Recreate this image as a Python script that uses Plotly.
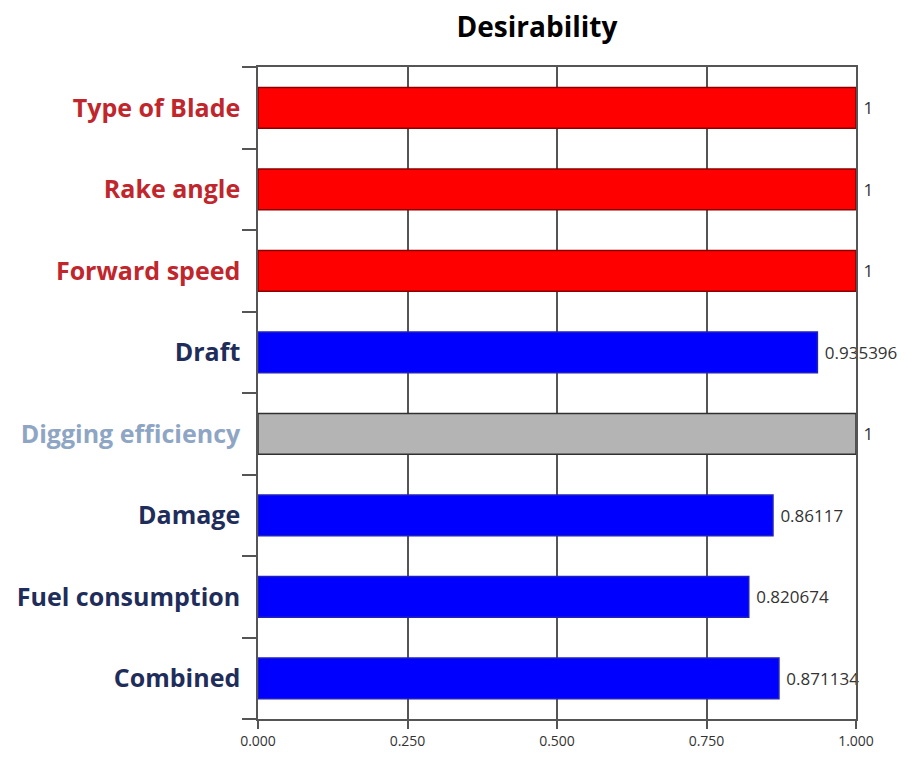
import plotly.graph_objects as go

categories = ["Type of Blade", "Rake angle", "Forward speed", "Draft",
              "Digging efficiency", "Damage", "Fuel consumption", "Combined"]
values = [1, 1, 1, 0.935396, 1, 0.86117, 0.820674, 0.871134]
value_text = ["1", "1", "1", "0.935396", "1", "0.86117", "0.820674", "0.871134"]
bar_colors = ["#FF0000", "#FF0000", "#FF0000", "#0000FF", "#B4B4B4", "#0000FF", "#0000FF", "#0000FF"]
edge_colors = ["#8B0000", "#8B0000", "#8B0000", "#2020C0", "#303030", "#2020C0", "#2020C0", "#2020C0"]
label_colors = ["#C0262C", "#C0262C", "#C0262C", "#1F2D5A", "#8EA5C4", "#1F2D5A", "#1F2D5A", "#1F2D5A"]
x_ticks = [0, 0.25, 0.5, 0.75, 1.0]
x_ticktext = ["0.000", "0.250", "0.500", "0.750", "1.000"]

ticktext = [f"<span style='color:{c}'><b>{t}</b></span>" for t, c in zip(categories, label_colors)]

fig = go.Figure(go.Bar(
    y=categories, x=values, orientation="h",
    marker=dict(color=bar_colors, line=dict(color=edge_colors, width=1.5)),
    text=[" " + t for t in value_text], textposition="outside", cliponaxis=False,
    textfont=dict(family="Open Sans", size=17, color="#333333"),
    width=0.5,
))

fig.update_layout(
    width=907, height=762,
    paper_bgcolor="white", plot_bgcolor="white",
    margin=dict(l=250, r=59, t=59, b=51, autoexpand=False),
    showlegend=False,
    title=dict(text="<b>Desirability</b>", x=529/907, xanchor="center",
               y=1 - 19/762, yanchor="middle",
               font=dict(family="Open Sans", size=28, color="#000000")),
    xaxis=dict(range=[0, 1], tickvals=x_ticks, ticktext=x_ticktext,
               showgrid=True, gridcolor="#555555", gridwidth=1.5,
               showline=True, linecolor="#555555", linewidth=1.5, mirror=True,
               ticks="outside", ticklen=8, tickcolor="#555555", tickwidth=1.5,
               tickfont=dict(family="Open Sans", size=14, color="#333333"),
               zeroline=False, fixedrange=True, automargin=False),
    yaxis=dict(autorange="reversed", tickvals=categories, ticktext=ticktext,
               tickson="boundaries", ticks="outside", ticklen=14,
               tickcolor="#555555", tickwidth=1.5, ticklabelstandoff=11,
               showline=True, linecolor="#555555", linewidth=1.5, mirror=True,
               showgrid=False, automargin=False,
               tickfont=dict(family="Open Sans", size=25)),
)

fig.write_html("out.html")
